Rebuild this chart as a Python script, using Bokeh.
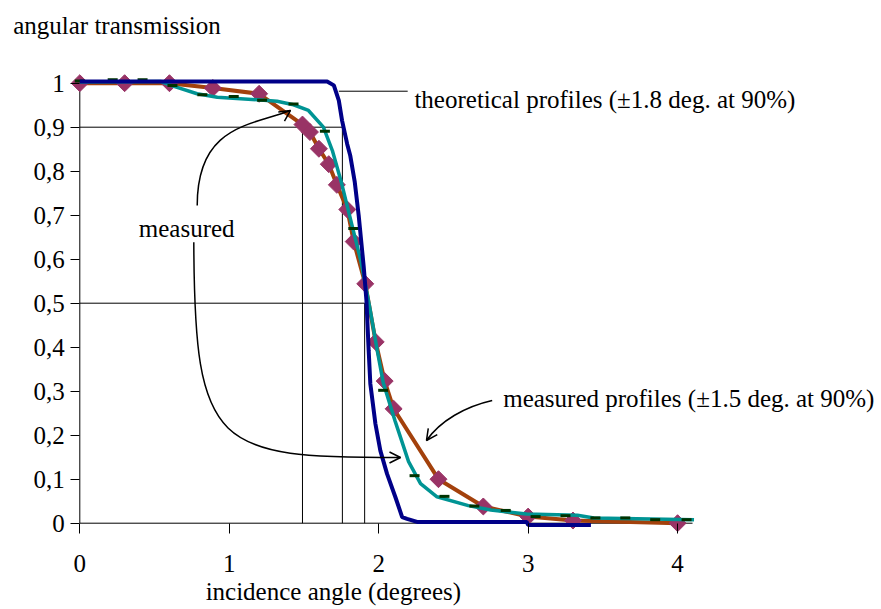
from bokeh.plotting import figure
from bokeh.models import Range1d, FixedTicker, Label, Arrow, OpenHead
from bokeh.embed import file_html
from bokeh.resources import INLINE

# ---------------- data ----------------
# theoretical profile (navy)
theo_x = [0, 1.655, 1.70, 1.733, 1.755, 1.789, 1.81, 1.84, 1.866, 1.90, 1.918, 1.933,
          1.944, 1.978, 2.011, 2.056, 2.112, 2.157, 2.19, 2.257, 2.99, 3.00, 3.42]
theo_y = [1.004, 1.004, 0.995, 0.961, 0.915, 0.862, 0.835, 0.775, 0.70, 0.582, 0.506, 0.392,
          0.317, 0.226, 0.165, 0.112, 0.059, 0.014, 0.010, 0.003, 0.003, -0.004, -0.004]

# measured profile 1 (brown line, diamonds)
meas1_x = [0, 0.30, 0.60, 0.89, 1.20, 1.49, 1.54, 1.60, 1.666, 1.72, 1.79, 1.833, 1.91,
           1.98, 2.04, 2.10, 2.40, 2.70, 3.00, 3.30, 4.00]
meas1_y = [1.0, 1.0, 1.0, 0.989, 0.976, 0.906, 0.889, 0.851, 0.816, 0.769, 0.713, 0.640, 0.544,
           0.412, 0.323, 0.26, 0.10, 0.038, 0.015, 0.006, 0.0]

# measured profile 2 (teal line)
meas2_x = [0, 0.54, 0.61, 0.785, 0.92, 1.21, 1.32, 1.43, 1.53, 1.63, 1.69, 1.75, 1.79, 1.88,
           1.944, 1.99, 2.03, 2.11, 2.20, 2.28, 2.39, 2.60, 2.75, 2.99, 3.33, 3.44, 4.11]
meas2_y = [1.003, 1.004, 0.995, 0.976, 0.968, 0.962, 0.959, 0.951, 0.938, 0.90, 0.847, 0.775,
           0.72, 0.597, 0.483, 0.393, 0.32, 0.232, 0.14, 0.09, 0.06, 0.040, 0.030, 0.021,
           0.018, 0.012, 0.008]

# measured profile 2 sample marks (dark green dashes)
mark2_x = [0, 0.22, 0.42, 0.62, 0.82, 1.03, 1.22, 1.43, 1.64, 1.83, 2.03, 2.24, 2.44, 2.64,
           2.85, 3.05, 3.25, 3.45, 3.65, 3.85, 4.06]
mark2_y = [1.005, 1.008, 1.008, 0.995, 0.974, 0.970, 0.961, 0.953, 0.891, 0.670, 0.302, 0.108,
           0.061, 0.039, 0.029, 0.015, 0.017, 0.012, 0.012, 0.008, 0.008]

# reference levels
level_90 = 0.9
level_50 = 0.5
x90_meas = 1.49
x90_theo = 1.757
x50 = 1.906
x_axis_end = 4.1

x_ticks = [0, 1, 2, 3, 4]
x_tick_labels = ["0", "1", "2", "3", "4"]
y_ticks = [0, 0.1, 0.2, 0.3, 0.4, 0.5, 0.6, 0.7, 0.8, 0.9, 1]
y_tick_labels = ["0", "0,1", "0,2", "0,3", "0,4", "0,5", "0,6", "0,7", "0,8", "0,9", "1"]

FONT = "Liberation Serif"
FS = "25px"

# ---------------- figure ----------------
p = figure(width=881, height=609,
           x_range=Range1d(-0.5306, 5.3644), y_range=Range1d(-0.19614, 1.18795),
           output_backend="svg", toolbar_location=None,
           min_border_left=0, min_border_right=0, min_border_top=0, min_border_bottom=0)
p.outline_line_color = None
p.xgrid.visible = False
p.ygrid.visible = False
p.background_fill_color = "white"
p.border_fill_color = "white"

for ax in (p.xaxis, p.yaxis):
    ax.fixed_location = 0
    ax.axis_line_color = None
    ax.major_tick_in = 0
    ax.minor_tick_line_color = None
    ax.major_tick_line_color = "black"
    ax.major_label_text_font = FONT
    ax.major_label_text_font_size = FS
    ax.major_label_text_color = "black"

p.xaxis.ticker = FixedTicker(ticks=x_ticks, minor_ticks=[])
p.yaxis.ticker = FixedTicker(ticks=y_ticks, minor_ticks=[])
p.xaxis.major_label_overrides = {t: s for t, s in zip(x_ticks, x_tick_labels)}
p.yaxis.major_label_overrides = {t: s for t, s in zip(y_ticks, y_tick_labels)}
p.xaxis.major_tick_out = 10
p.yaxis.major_tick_out = 9
p.xaxis.major_label_standoff = 22
p.yaxis.major_label_standoff = 6

# axis lines
p.segment(x0=[0, 0], y0=[0, 0], x1=[0, x_axis_end], y1=[1, 0], line_color="black", line_width=1)

# reference lines
p.segment(x0=[0, 0, x90_meas, x90_theo, x50],
          y0=[level_90, level_50, 0, 0, 0],
          x1=[x90_theo, x50, x90_meas, x90_theo, x50],
          y1=[level_90, level_50, level_90, level_90, level_50],
          line_color="black", line_width=1)

# curves
p.line(meas1_x, meas1_y, line_color="#A3410C", line_width=4)
p.scatter(meas1_x, meas1_y, marker="square", angle=0.785398, size=12,
          fill_color="#993366", line_color="#993366", line_width=1)
p.line(meas2_x, meas2_y, line_color="#009494", line_width=3.5)
p.scatter(mark2_x, mark2_y, marker="dash", size=10, line_color="#003300", line_width=3)
p.line(theo_x, theo_y, line_color="#000088", line_width=4)

# annotation curves
p.bezier(x0=[0.7856, 0.7628, 2.7594], y0=[0.7220, 0.6386, 0.2789],
         x1=[1.4098, 2.1459, 2.3198], y1=[0.9380, 0.1493, 0.1880],
         cx0=[0.7856, 0.7675, 2.5808], cy0=[0.9039, 0.1652, 0.2652],
         cx1=[1.1422, 0.9080, 2.4135], cy1=[0.9036, 0.1493, 0.2334],
         line_color="black", line_width=1.5)
for xs, ys, xe, ye in [(1.3959, 0.9348, 1.4098, 0.9380),
                       (2.1191, 0.1493, 2.1459, 0.1493),
                       (2.3352, 0.1955, 2.3198, 0.1880)]:
    p.add_layout(Arrow(end=OpenHead(size=11, line_width=1.5, line_color="black"),
                       x_start=xs, y_start=ys, x_end=xe, y_end=ye,
                       line_color="black", line_width=1.5))

# leader line for theoretical label
p.segment(x0=[1.733], y0=[0.9818], x1=[2.194], y1=[0.9818], line_color="black", line_width=1)

# texts
texts = [
    (-0.4456, 1.131, "angular transmission"),
    (0.395, 0.669, "measured"),
    (2.239, 0.9623, "theoretical profiles (\u00b11.8 deg. at 90%)"),
    (2.833, 0.2827, "measured profiles (\u00b11.5 deg. at 90%)"),
    (0.842, -0.1555, "incidence angle (degrees)"),
]
for x, y, t in texts:
    p.add_layout(Label(x=x, y=y, text=t, text_font=FONT, text_font_size=FS,
                       text_color="black", text_align="left", text_baseline="alphabetic"))

open("out.html", "w").write(file_html(p, INLINE))
